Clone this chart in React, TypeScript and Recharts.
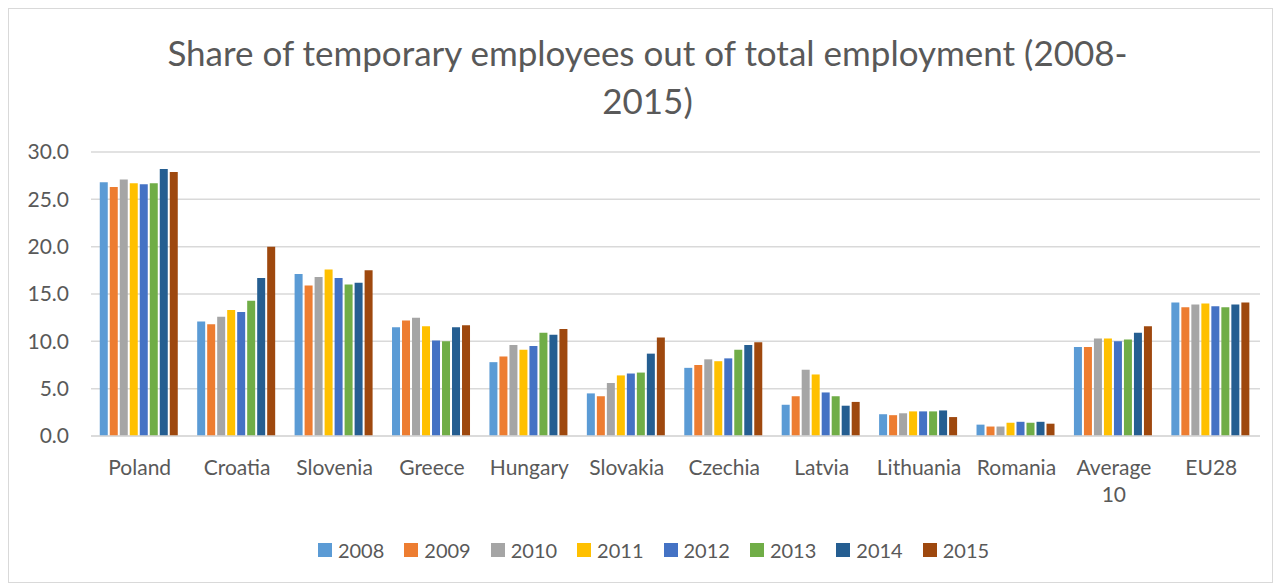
import { BarChart, Bar, XAxis, YAxis, CartesianGrid, Legend } from 'recharts'

const categories = ['Poland', 'Croatia', 'Slovenia', 'Greece', 'Hungary', 'Slovakia', 'Czechia', 'Latvia', 'Lithuania', 'Romania', 'Average 10', 'EU28']
const years = ['2008', '2009', '2010', '2011', '2012', '2013', '2014', '2015']
const colors = ['#5B9BD5', '#ED7D31', '#A5A5A5', '#FFC000', '#4472C4', '#70AD47', '#255E91', '#9E480E']

const v2008 = [26.8, 12.1, 17.1, 11.5, 7.8, 4.5, 7.2, 3.3, 2.3, 1.2, 9.4, 14.1]
const v2009 = [26.3, 11.8, 15.9, 12.2, 8.4, 4.2, 7.5, 4.2, 2.2, 1.0, 9.4, 13.6]
const v2010 = [27.1, 12.6, 16.8, 12.5, 9.6, 5.6, 8.1, 7.0, 2.4, 1.0, 10.3, 13.9]
const v2011 = [26.7, 13.3, 17.6, 11.6, 9.1, 6.4, 7.9, 6.5, 2.6, 1.4, 10.3, 14.0]
const v2012 = [26.6, 13.1, 16.7, 10.1, 9.5, 6.6, 8.2, 4.6, 2.6, 1.5, 10.0, 13.7]
const v2013 = [26.7, 14.3, 16.0, 10.0, 10.9, 6.7, 9.1, 4.2, 2.6, 1.4, 10.2, 13.6]
const v2014 = [28.2, 16.7, 16.2, 11.5, 10.7, 8.7, 9.6, 3.2, 2.7, 1.5, 10.9, 13.9]
const v2015 = [27.9, 20.0, 17.5, 11.7, 11.3, 10.4, 9.9, 3.6, 2.0, 1.3, 11.6, 14.1]

const yTicks = [0, 5, 10, 15, 20, 25, 30]

const series = [v2008, v2009, v2010, v2011, v2012, v2013, v2014, v2015]
const data = categories.map((name, i) => {
  const row: Record<string, string | number> = { name }
  years.forEach((y, j) => { row[y] = series[j][i] })
  return row
})

const FONT = 'Lato, "Open Sans", sans-serif'
const TEXT = '#595959'

function CategoryTick({ x, y, payload }: any) {
  const words = String(payload.value).split(' ')
  return (
    <text x={x} y={y} textAnchor="middle" fill={TEXT} fontSize={21} fontFamily={FONT}>
      {words.map((w, i) => (
        <tspan key={i} x={x} dy={i === 0 ? 31 : 27}>{w}</tspan>
      ))}
    </text>
  )
}

function LegendContent() {
  return (
    <div style={{ display: 'flex', justifyContent: 'center', paddingLeft: 38, paddingTop: 4, fontFamily: FONT, fontSize: 20, color: TEXT }}>
      {years.map((y, i) => (
        <div key={y} style={{ display: 'flex', alignItems: 'center', marginRight: i < years.length - 1 ? 20 : 0 }}>
          <span style={{ width: 14, height: 14, background: colors[i], display: 'inline-block', marginRight: 6 }} />
          <span>{y}</span>
        </div>
      ))}
    </div>
  )
}

export default function App() {
  return (
    <div style={{ position: 'relative', width: 1263, height: 573, border: '1px solid #D9D9D9', background: '#fff' }}>
      <div style={{ position: 'absolute', left: 0, top: 19, width: 1263, textAlign: 'center', fontFamily: FONT, fontSize: 35, lineHeight: '48px', color: TEXT, paddingLeft: 14, boxSizing: 'border-box' }}>
        Share of temporary employees out of total employment (2008-<br />2015)
      </div>
      <BarChart width={1263} height={573} data={data} margin={{ top: 143, right: 12, left: 0, bottom: 18 }}
        barCategoryGap="9%" barGap={2}>
        <CartesianGrid vertical={false} stroke="#D9D9D9" strokeWidth={1.5} />
        <XAxis dataKey="name" axisLine={{ stroke: '#D9D9D9', strokeWidth: 1.5 }} tickLine={false} height={98}
          interval={0} tick={<CategoryTick />} />
        <YAxis domain={[0, 30]} ticks={yTicks} axisLine={false} tickLine={false} width={82} tickMargin={16}
          tickFormatter={(v: number) => v.toFixed(1)} tick={{ fill: TEXT, fontSize: 21, fontFamily: FONT }} />
        <Legend verticalAlign="bottom" height={30} content={<LegendContent />} />
        {years.map((y, i) => (
          <Bar key={y} dataKey={y} fill={colors[i]} isAnimationActive={false} />
        ))}
      </BarChart>
    </div>
  )
}
